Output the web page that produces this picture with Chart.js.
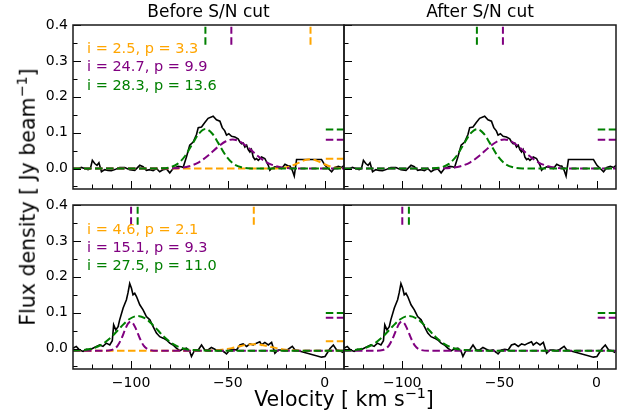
<!DOCTYPE html>
<html>
<head>
<meta charset="utf-8">
<script src="https://cdn.jsdelivr.net/npm/chart.js@4.4.0/dist/chart.umd.min.js"></script>
<style>
  html, body { margin: 0; padding: 0; background: #fff; }
  #fig { position: relative; width: 628px; height: 417px; overflow: hidden; font-family: "DejaVu Sans", sans-serif; color: #000; }
  #fig canvas { position: absolute; left: 0; top: 0; }
  .txt { position: absolute; white-space: nowrap; line-height: 1; }
  .sup { font-size: 70%; position: relative; top: -0.55em; }
</style>
</head>
<body>
<div id="fig">
  <canvas id="c1" width="628" height="417"></canvas>
  <canvas id="c2" width="628" height="417"></canvas>
  <canvas id="c3" width="628" height="417"></canvas>
  <canvas id="c4" width="628" height="417"></canvas>

  <div class="txt" style="left:208.5px; top:11px; transform:translate(-50%,-50%); font-size:17px;">Before S/N cut</div>
  <div class="txt" style="left:480px; top:11px; transform:translate(-50%,-50%); font-size:17px;">After S/N cut</div>

  <div class="txt" style="left:27.5px; top:197px; transform:translate(-50%,-50%) rotate(-90deg); font-size:20.5px;">Flux density [ Jy beam<span class="sup">−1</span>]</div>
  <div class="txt" style="left:344px; top:399px; transform:translate(-50%,-50%); font-size:20.5px;">Velocity [ km s<span class="sup">−1</span>]</div>

  <div id="labels"></div>
</div>

<script>
// tick values
const xTicks = [-100, -50, 0];
const xMinor = [-120, -110, -90, -80, -70, -60, -40, -30, -20, -10];
const yTicks = [0, 0.1, 0.2, 0.3, 0.4];
const yMinor = [-0.05, 0.05, 0.15, 0.25, 0.35];

// observed spectrum, upper row (same in both panels)
const velTop = [-129.1, -127.4, -125.7, -124.0, -122.2, -121.0, -120.0, -118.8, -117.6, -116.6,
  -115.3, -113.6, -111.9, -110.2, -108.4, -105.9, -103.3, -100.7, -98.1, -95.5,
  -93.8, -92.1, -90.3, -88.6, -86.9, -85.2, -83.4, -81.7, -80.0, -78.3,
  -75.7, -74.0, -73.1, -71.4, -69.7, -67.9, -66.2, -65.3, -63.6, -61.9,
  -60.2, -57.6, -55.9, -54.1, -52.9, -51.6, -50.7, -49.5, -48.1, -46.4,
  -44.7, -43.8, -42.9, -42.1, -41.2, -40.3, -39.5, -38.6, -37.8, -36.9,
  -36.0, -35.2, -34.3, -32.6, -30.9, -29.1, -28.3, -27.4, -25.7, -24.0,
  -22.2, -20.5, -18.8, -17.9, -16.7, -15.7, -14.5, -1.6, 0.2, 1.9,
  3.6, 5.3, 7.1, 8.8, 10.0];
const fluxTop = [-0.002, -0.001, 0.003, 0.000, -0.003, 0.000, 0.023, 0.014, 0.009, 0.016,
  -0.009, -0.003, -0.005, -0.006, -0.003, 0.003, 0.003, -0.003, -0.005, 0.009,
  0.005, -0.005, -0.003, -0.006, 0.000, -0.009, -0.003, -0.001, -0.012, 0.000,
  0.006, 0.005, 0.003, 0.032, 0.065, 0.074, 0.095, 0.114, 0.116, 0.128,
  0.140, 0.146, 0.136, 0.132, 0.114, 0.105, 0.093, 0.097, 0.090, 0.088,
  0.083, 0.074, 0.069, 0.071, 0.060, 0.065, 0.053, 0.046, 0.053, 0.032,
  0.025, 0.028, 0.023, 0.032, 0.028, 0.009, -0.005, 0.000, 0.005, 0.003,
  0.000, 0.012, 0.007, 0.007, -0.005, -0.021, 0.025, 0.025, 0.009, 0.000,
  -0.009, 0.003, 0.006, 0.003, 0.009];

// observed spectrum, lower row
const velBot = [-130.0, -128.3, -126.6, -124.8, -123.1, -121.4, -119.7, -117.9, -116.2, -114.5,
  -112.8, -111.0, -109.7, -109.0, -107.9, -106.7, -105.9, -104.1, -102.4, -101.6,
  -100.7, -99.8, -99.0, -98.1, -97.2, -95.5, -93.8, -92.9, -92.1, -90.3,
  -88.6, -86.9, -85.2, -83.4, -81.7, -80.0, -78.3, -76.6, -74.8, -73.1,
  -71.4, -69.7, -68.8, -67.1, -65.3, -63.6, -61.9, -60.2, -58.5, -56.7,
  -55.0, -53.3, -51.6, -50.7, -49.0, -47.2, -45.5, -43.8, -42.1, -40.3,
  -38.6, -36.9, -35.2, -33.5, -32.6, -30.9, -29.1, -27.4, -25.7, -24.0,
  -22.2, -20.5, -18.8, -16.7, -15.3, -13.6, -1.6, 0.2, 2.8, 4.5,
  6.2, 7.9, 9.6];
const fluxBot = [0.001, 0.006, -0.004, -0.008, -0.002, -0.004, 0.001, 0.006, 0.010, 0.006,
  0.015, 0.010, 0.022, 0.066, 0.052, 0.061, 0.080, 0.113, 0.136, 0.155,
  0.181, 0.168, 0.150, 0.154, 0.145, 0.122, 0.108, 0.098, 0.089, 0.080,
  0.061, 0.043, 0.033, 0.029, 0.024, 0.015, 0.010, 0.001, -0.006, -0.001,
  0.001, -0.008, -0.022, -0.004, -0.004, 0.010, -0.004, -0.004, 0.003, -0.002,
  -0.006, -0.004, -0.011, -0.015, -0.004, -0.002, -0.004, 0.010, 0.013, 0.006,
  0.013, 0.010, 0.015, 0.019, 0.010, 0.017, 0.010, 0.017, -0.013, -0.004,
  -0.004, -0.006, -0.002, 0.006, -0.004, -0.006, -0.024, -0.022, 0.000, 0.010,
  -0.004, -0.006, -0.011];

// fitted components, upper row
const topGreenV = [-130, -90, -85, -80, -76, -72, -68, -65, -61.5, -58, -55, -51, -47, -43, -38, -30, 10];
const topGreenF = [0, 0, 0.0004, 0.0034, 0.0129, 0.0357, 0.0715, 0.097, 0.11, 0.097, 0.0715, 0.0357, 0.0129, 0.0034, 0.0004, 0, 0];
const topPurpleV = [-130, -85, -80, -75, -70, -65, -60, -55, -51, -47.5, -44, -40, -35, -30, -25, -20, -15, -10, 10];
const topPurpleF = [0, 0, 0.0004, 0.0018, 0.0064, 0.0175, 0.037, 0.061, 0.076, 0.081, 0.076, 0.061, 0.037, 0.0175, 0.0064, 0.0018, 0.0004, 0, 0];
const topOrangeV = [-130, -30, -25, -21, -18, -15, -12, -10, -7.5, -5, -3, 0, 3, 6, 10];
const topOrangeF = [0, 0, 0.0004, 0.0021, 0.0056, 0.0119, 0.0196, 0.0238, 0.026, 0.0238, 0.0196, 0.0119, 0.0056, 0.0021, 0.0004];

// fitted components, lower row
const botGreenV = [-130, -125, -120, -115, -110, -105, -101, -96.5, -92, -88, -83, -78, -73, -68, -63, -55, 10];
const botGreenF = [-0.0056, -0.0043, 0.0001, 0.0116, 0.033, 0.0616, 0.0817, 0.091, 0.0817, 0.0616, 0.033, 0.0116, 0.0001, -0.0043, -0.0056, -0.006, -0.006];
const botPurpleV = [-130, -115, -110, -107, -105, -103, -101.5, -100.2, -99, -97.5, -95.5, -93.5, -90.5, -86, 10];
const botPurpleF = [-0.006, -0.006, -0.004, 0.0076, 0.0273, 0.054, 0.070, 0.075, 0.0706, 0.055, 0.0286, 0.0083, -0.0039, -0.006, -0.006];
const botOrangeV = [-130, -65, -58, -53, -48, -44, -40, -36.5, -33, -29, -25, -20, -15, -8, 10];
const botOrangeF = [-0.006, -0.006, -0.0053, -0.0033, 0.0012, 0.0062, 0.0105, 0.012, 0.0105, 0.0062, 0.0012, -0.0033, -0.0053, -0.006, -0.006];

// markers: [green, purple, orange]
const topMarkV = [-61.6, -48.2, -7.3];
const topStubF = [0.109, 0.080, 0.027];
const botMarkV = [-96.6, -100.0, -36.6];
const botStubF = [0.099, 0.086, 0.020];
const markSpan = [0.345, 0.395];
const stubSpan = [0.6, 10];

const topLabels = ["i = 2.5, p = 3.3", "i = 24.7, p = 9.9", "i = 28.3, p = 13.6"];
const botLabels = ["i = 4.6, p = 2.1", "i = 15.1, p = 9.3", "i = 27.5, p = 11.0"];

const ORANGE = "#ffa500", PURPLE = "#800080", GREEN = "#008000";
const W = 628, H = 417, Y_AXIS_W = 60, X_AXIS_H = 30;

const pts = (xs, ys) => xs.map((v, i) => ({ x: v, y: ys[i] }));

function dataLine(xs, ys) {
  return { data: pts(xs, ys), borderColor: "#000", borderWidth: 1.6, tension: 0, pointRadius: 0, fill: false, order: 10 };
}
function fitLine(xs, ys, color, order) {
  return { data: pts(xs, ys), borderColor: color, borderWidth: 2, borderDash: [7.5, 3.5],
    cubicInterpolationMode: "monotone", pointRadius: 0, fill: false, order: order };
}
function markers(markV, stubF, colors) {
  const out = [];
  colors.forEach((c, i) => {
    out.push({ data: pts([markV[i], markV[i]], markSpan), borderColor: c, borderWidth: 2, borderDash: [7.5, 3.5], pointRadius: 0, order: 0 });
    out.push({ data: pts(stubSpan, [stubF[i], stubF[i]]), borderColor: c, borderWidth: 2, borderDash: [7.5, 3.5], pointRadius: 0, order: 0 });
  });
  return out;
}

// frame box and inward ticks
const frameTicks = {
  id: "frameTicks",
  afterDatasetsDraw(chart) {
    const { ctx, chartArea: a, scales: { x, y } } = chart;
    ctx.save();
    ctx.strokeStyle = "#000";
    ctx.lineWidth = 1;
    ctx.beginPath();
    xTicks.forEach(v => { const p = Math.round(x.getPixelForValue(v)) + 0.5; ctx.moveTo(p, a.bottom); ctx.lineTo(p, a.bottom - 8); });
    xMinor.forEach(v => { const p = Math.round(x.getPixelForValue(v)) + 0.5; ctx.moveTo(p, a.bottom); ctx.lineTo(p, a.bottom - 4.5); });
    yTicks.forEach(v => { const p = Math.round(y.getPixelForValue(v)) + 0.5; ctx.moveTo(a.left, p); ctx.lineTo(a.left + 8, p); });
    yMinor.forEach(v => { const p = Math.round(y.getPixelForValue(v)) + 0.5; ctx.moveTo(a.left, p); ctx.lineTo(a.left + 4.5, p); });
    ctx.stroke();
    ctx.strokeStyle = "#1a1a1a";
    ctx.lineWidth = 1.5;
    ctx.strokeRect(a.left, a.top, a.right - a.left, a.bottom - a.top);
    ctx.restore();
  }
};

const minus = v => (v < 0 ? "\u2212" + Math.abs(v) : String(v));

function makePanel(id, box, showX, showY, datasets) {
  new Chart(document.getElementById(id), {
    type: "line",
    data: { datasets },
    options: {
      responsive: false,
      animation: false,
      events: [],
      layout: { padding: {
        left: box.l - (showY ? Y_AXIS_W : 0),
        top: box.t,
        right: W - box.r,
        bottom: H - box.b - (showX ? X_AXIS_H : 0)
      } },
      plugins: { legend: { display: false }, tooltip: { enabled: false } },
      scales: {
        x: {
          type: "linear", min: -130, max: 10, display: showX,
          grid: { display: false, drawTicks: false }, border: { display: false },
          ticks: { color: "#000", padding: 6, font: { family: "DejaVu Sans", size: 14 }, callback: minus, maxRotation: 0 },
          afterBuildTicks: s => { s.ticks = xTicks.map(v => ({ value: v })); },
          afterFit: s => { s.height = showX ? X_AXIS_H : 0; }
        },
        y: {
          type: "linear", min: -0.057, max: 0.4, display: showY,
          grid: { display: false, drawTicks: false }, border: { display: false },
          ticks: { color: "#000", padding: 5, font: { family: "DejaVu Sans", size: 14 }, callback: v => v.toFixed(1) },
          afterBuildTicks: s => { s.ticks = yTicks.map(v => ({ value: v })); },
          afterFit: s => { s.width = showY ? Y_AXIS_W : 0; }
        }
      }
    },
    plugins: [frameTicks]
  });
}

const boxTL = { l: 73, t: 25, r: 344, b: 189 };
const boxTR = { l: 344, t: 25, r: 616, b: 189 };
const boxBL = { l: 73, t: 205, r: 344, b: 369 };
const boxBR = { l: 344, t: 205, r: 616, b: 369 };

makePanel("c1", boxTL, false, true, [
  fitLine(topGreenV, topGreenF, GREEN, 1),
  fitLine(topPurpleV, topPurpleF, PURPLE, 2),
  fitLine(topOrangeV, topOrangeF, ORANGE, 3),
  dataLine(velTop, fluxTop),
  ...markers(topMarkV, topStubF, [GREEN, PURPLE, ORANGE])
]);
makePanel("c2", boxTR, false, false, [
  fitLine(topGreenV, topGreenF, GREEN, 1),
  fitLine(topPurpleV, topPurpleF, PURPLE, 2),
  dataLine(velTop, fluxTop),
  ...markers(topMarkV, topStubF, [GREEN, PURPLE])
]);
makePanel("c3", boxBL, true, true, [
  fitLine(botGreenV, botGreenF, GREEN, 1),
  fitLine(botPurpleV, botPurpleF, PURPLE, 2),
  fitLine(botOrangeV, botOrangeF, ORANGE, 3),
  dataLine(velBot, fluxBot),
  ...markers(botMarkV, botStubF, [GREEN, PURPLE, ORANGE])
]);
makePanel("c4", boxBR, true, false, [
  fitLine(botGreenV, botGreenF, GREEN, 1),
  fitLine(botPurpleV, botPurpleF, PURPLE, 2),
  dataLine(velBot, fluxBot),
  ...markers(botMarkV, botStubF, [GREEN, PURPLE])
]);

// legend-like annotations in the left panels
const labelColors = [ORANGE, PURPLE, GREEN];
const labelBox = document.getElementById("labels");
function addLabels(list, ys) {
  list.forEach((t, i) => {
    const d = document.createElement("div");
    d.className = "txt";
    d.textContent = t;
    d.style.left = "87px";
    d.style.top = ys[i] + "px";
    d.style.transform = "translateY(-50%)";
    d.style.fontSize = "14.5px";
    d.style.color = labelColors[i];
    labelBox.appendChild(d);
  });
}
addLabels(topLabels, [48, 66.3, 84.5]);
addLabels(botLabels, [228.8, 247, 264.7]);
</script>
</body>
</html>
